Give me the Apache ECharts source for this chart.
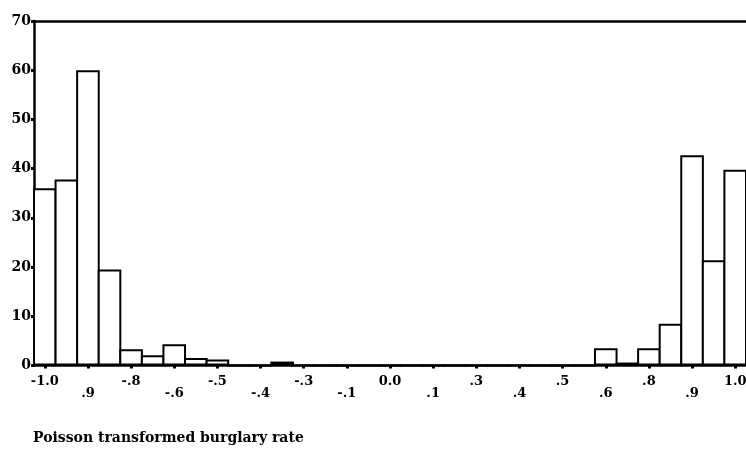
<!DOCTYPE html>
<html>
<head>
<meta charset="utf-8">
<script src="https://cdn.jsdelivr.net/npm/echarts@6/dist/echarts.min.js"></script>
<style>
html,body{margin:0;padding:0;background:#fff;overflow:hidden;}
#chart{width:746px;height:454px;}
</style>
</head>
<body>
<div id="chart"></div>
<script>
// Bin centres (bin width 0.0625)
const categories = ["-1.0","-0.9375","-0.875","-0.8125","-0.75","-0.6875","-0.625","-0.5625","-0.5","-0.4375","-0.375","-0.3125","-0.25","-0.1875","-0.125","-0.0625","0","0.0625","0.125","0.1875","0.25","0.3125","0.375","0.4375","0.5","0.5625","0.625","0.6875","0.75","0.8125","0.875","0.9375","1.0"];
// Frequencies
const counts = [36, 37.8, 60, 19.5, 3.3, 2.1, 4.3, 1.5, 1.2, 0, 0, 0.8, 0, 0, 0, 0, 0, 0, 0, 0, 0, 0, 0, 0, 0, 0, 3.5, 0.6, 3.5, 8.5, 42.7, 21.4, 39.8];
// Labels shown under every other bin
const tickLabels = ["-1.0", ".9", "-.8", "-.6", "-.5", "-.4", "-.3", "-.1", "0.0", ".1", ".3", ".4", ".5", ".6", ".8", ".9", "1.0"];
const yTicks = [0, 10, 20, 30, 40, 50, 60, 70];
const xTitle = "Poisson transformed burglary rate";

const FONT = "DejaVu Serif";
const chart = echarts.init(document.getElementById('chart'), null, {renderer: 'canvas'});
chart.setOption({
  animation: false,
  backgroundColor: '#fff',
  title: {
    text: xTitle,
    left: 33, top: 431, padding: 0,
    textStyle: {fontFamily: FONT, fontSize: 14, fontWeight: 'bold', color: '#000'}
  },
  grid: {left: 34, right: 0, top: 21, bottom: 88.5, containLabel: false, outerBoundsMode: 'none'},
  xAxis: [{
    type: 'category',
    data: categories,
    position: 'bottom',
    boundaryGap: true,
    axisLine: {onZero: false, lineStyle: {color: '#000', width: 2.5}},
    axisTick: {show: true, interval: 1, alignWithLabel: true, length: 3, lineStyle: {color: '#000', width: 3}},
    axisLabel: {
      interval: 1,
      margin: 9,
      hideOverlap: false,
      formatter: function (value) {
        const i = categories.indexOf(value);
        const j = i / 2;
        const t = tickLabels[j];
        return (j % 2 === 0) ? '{a|' + t + '}' : '{b|' + t + '}';
      },
      rich: {
        a: {fontFamily: FONT, fontSize: 13, fontWeight: 'bold', color: '#000', lineHeight: 15},
        b: {fontFamily: FONT, fontSize: 13, fontWeight: 'bold', color: '#000', lineHeight: 15, padding: [23, 0, 0, 0]}
      }
    },
    splitLine: {show: false}
  }, {
    type: 'category',
    data: categories,
    position: 'top',
    axisLine: {show: true, onZero: false, lineStyle: {color: '#000', width: 2.5}},
    axisTick: {show: false},
    axisLabel: {show: false},
    splitLine: {show: false}
  }],
  yAxis: [{
    type: 'value',
    min: yTicks[0], max: yTicks[yTicks.length - 1], interval: 10,
    axisLine: {show: true, onZero: false, lineStyle: {color: '#000', width: 2.5}},
    axisTick: {show: true, length: 3, lineStyle: {color: '#000', width: 3}},
    axisLabel: {margin: 3, fontFamily: FONT, fontSize: 14, fontWeight: 'bold', color: '#000'},
    splitLine: {show: false}
  }, {
    type: 'value',
    position: 'right',
    min: 0, max: 70,
    axisLine: {show: true, onZero: false, lineStyle: {color: '#bbb', width: 1}},
    axisTick: {show: false},
    axisLabel: {show: false},
    splitLine: {show: false}
  }],
  series: [{
    type: 'bar',
    data: counts,
    barWidth: 23.6,
    barGap: '-100%',
    barCategoryGap: '0%',
    itemStyle: {color: '#fff', borderColor: '#000', borderWidth: 2},
    silent: true
  }]
});
</script>
</body>
</html>
